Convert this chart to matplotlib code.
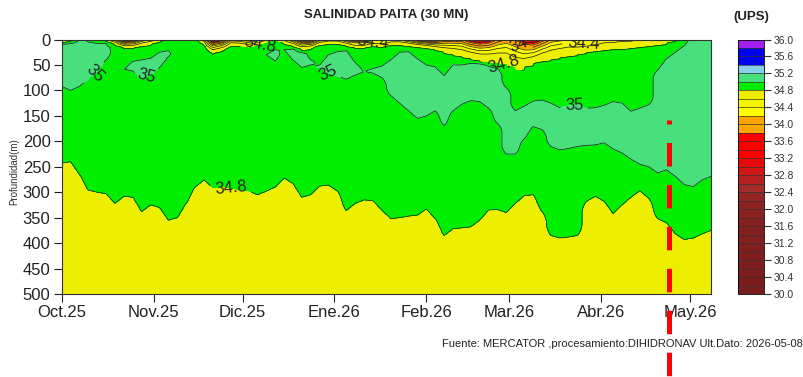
import numpy as np
import matplotlib
matplotlib.use("Agg")
import matplotlib.pyplot as plt
import matplotlib.dates as mdates

plt.rcParams['font.family'] = ['Liberation Sans', 'DejaVu Sans']
plt.rcParams['lines.scale_dashes'] = False

# --- Datos (salinidad, UPS) ---
inicio = np.datetime64('2025-10-01')
ult_dato = '2026-05-08'
fecha_corte = np.datetime64('2026-04-24')
dias = np.arange(0, 220, 3)   # dias desde el 1 de octubre

# profundidad de la isohalina 34.8 (limite con el agua de 34.6-34.8)
prof_348 = np.array([
    243, 240, 265, 296, 300, 303, 322, 308, 310, 338, 325, 330, 355, 350, 322,
    290, 276, 291, 289, 291, 295, 297, 305, 298, 290, 272, 283, 310, 305, 288,
    286, 298, 336, 322, 315, 317, 335, 352, 350, 347, 345, 333, 352, 385, 372,
    370, 368, 355, 335, 334, 340, 322, 307, 305, 338, 385, 390, 388, 385, 318,
    308, 318, 342, 325, 310, 297, 312, 352, 360, 382, 393, 390, 382, 375])

# capa superficial menos salina: espesor hasta 34.8 y salinidad en superficie
capa_sup = np.array([
    6, 4, 0, 0, 0, 4, 12, 18, 18, 15, 12, 6, 0, 0, 0,
    0, 12, 30, 25, 15, 15, 18, 15, 8, 4, 10, 15, 22, 20, 12,
    10, 10, 14, 18, 18, 15, 17, 13, 12, 14, 16, 18, 22, 28, 32,
    36, 40, 44, 46, 48, 53, 63, 60, 52, 45, 42, 38, 35, 32, 28,
    24, 22, 20, 20, 18, 16, 15, 12, 10, 5, 0, 0, 0, 0])
sal_sup = np.array([
    34.6, 34.7, 34.9, 34.9, 34.9, 34.7, 34.2, 33.1, 33.3, 34.1, 34.4, 34.6, 34.9, 34.9, 34.9,
    34.9, 34.4, 33.0, 33.3, 34.2, 34.1, 33.9, 34.2, 34.5, 34.7, 34.5, 34.0, 33.2, 33.3, 34.1,
    34.4, 34.4, 34.0, 33.3, 33.4, 34.0, 34.0, 34.3, 34.3, 34.0, 33.5, 33.2, 33.3, 33.7, 33.8,
    33.8, 33.4, 33.2, 33.4, 33.8, 34.0, 33.8, 33.4, 33.2, 33.6, 34.0, 34.1, 34.2, 34.1, 34.1,
    34.2, 34.4, 34.4, 34.5, 34.5, 34.6, 34.6, 34.6, 34.7, 34.75, 34.9, 34.9, 34.9, 34.9])

# nucleos de agua > 35 UPS (dia, techo, fondo)
oct_dias = [0, 3, 6, 9, 12, 15, 18]
oct_techo = [-10, -10, -5, 5, 8, 8, 5]
oct_fondo = [92, 100, 92, 78, 62, 40, 5]

nov_dias = [21, 24, 27, 30, 33, 36]
nov_techo = [58, 43, 40, 37, 25, 22]
nov_fondo = [58, 62, 76, 70, 55, 34]

dic_dias = [69, 72]
dic_techo = [30, 20]
dic_fondo = [30, 42]

ene_dias = [75, 78, 81, 84]
ene_techo = [20, -5, -5, 40]
ene_fondo = [20, 40, 55, 50]

ene2_dias = [87, 90, 93, 96, 99]
ene2_techo = [50, 30, 24, 22, 45]
ene2_fondo = [56, 66, 72, 78, 70]

feb_dias = list(range(102, 220, 3))
feb_techo = [63, 57, 52, 40, 25, 24, 38, 50, 54, 71, 50, 50, 47, 46, 53, 57,
             95, 140, 131, 121, 119, 125, 134, 130, 128, 135, 134, 129, 122,
             125, 141, 135, 128, 60, 38, 25, 12, -10, -10, -10]
feb_fondo = [63, 66, 75, 110, 125, 140, 155, 150, 140, 169, 140, 127, 120, 122,
             135, 165, 225, 225, 195, 171, 177, 210, 217, 214, 210, 208, 207,
             203, 215, 223, 235, 245, 250, 262, 256, 269, 285, 289, 276, 269]

nucleos = [(oct_dias, oct_techo, oct_fondo), (nov_dias, nov_techo, nov_fondo),
           (dic_dias, dic_techo, dic_fondo), (ene_dias, ene_techo, ene_fondo),
           (ene2_dias, ene2_techo, ene2_fondo), (feb_dias, feb_techo, feb_fondo)]

meses = ['Oct.25', 'Nov.25', 'Dic.25', 'Ene.26', 'Feb.26', 'Mar.26', 'Abr.26', 'May.26']
fechas_meses = np.arange('2025-10', '2026-06', dtype='datetime64[M]').astype('datetime64[D]')

niveles = np.round(np.arange(30.0, 36.01, 0.2), 1)
colores = ['#7a1c1c', '#7a1c1c', '#7d1d1d', '#7d1d1d', '#801e1e', '#801e1e',
           '#831f1f', '#831f1f', '#862020', '#892121', '#8c2222', '#952525',
           '#a52a2a', '#b82020', '#d01515', '#e60a0a', '#ff0000', '#ff0000',
           '#ff0000', '#ffa500', '#ffa500', '#ffff00', '#f5f500', '#eeee00',
           '#00ee00', '#48e07c', '#87ceeb', '#0000ee', '#0000ee', '#a020f0']

# etiquetas de isohalinas: nivel, dia, profundidad
etiquetas = [(35.0, 11, 66), (35.0, 28, 60), (35.0, 90, 62), (35.0, 173, 132),
             (34.8, 57, 291), (34.8, 67, 12), (34.8, 149, 53),
             (34.4, 105, 8), (34.4, 176, 12), (34.0, 154, 14)]

# --- Campo de salinidad ---
z = np.arange(0, 501, 2.0)
Z = z[:, None]
sal = 34.8 + 0.1 * np.clip((prof_348[None, :] - Z) / 20.0, -1, 1)

# nucleos salinos: 35.0 en el borde, 35.1 en el interior
for d, t, f in nucleos:
    idx = np.array(d) // 3
    t = np.array(t, float)
    f = np.array(f, float)
    centro = (t + f) / 2
    medio = (f - t) / 2
    s_n = 35.0 + 0.1 * np.clip((medio[None, :] - np.abs(Z - centro[None, :])) / 15.0, -100, 1)
    sal[:, idx] = np.maximum(sal[:, idx], s_n)

# capa superficial: perfil cuadratico desde sal_sup hasta 34.8
hf = capa_sup[None, :].astype(float)
u = np.clip(1 - Z / np.maximum(hf, 1), 0, None)
s_f = np.where(Z < hf, 34.8 - (34.8 - sal_sup[None, :]) * u ** 2, 34.8 + (Z - hf) * 0.05)
sal = np.where(hf > 0, np.minimum(sal, s_f), sal)

x = mdates.date2num(inicio) + dias
d0 = mdates.date2num(inicio)

# --- Figura ---
fig = plt.figure(figsize=(8.04, 3.77), dpi=100)
ax = fig.add_axes([0.0767, 0.2202, 0.8076, 0.675])
cax = fig.add_axes([0.918, 0.2202, 0.0323, 0.675])

cf = ax.contourf(x, z, sal, levels=niveles, colors=colores)

con_etiqueta = sorted({e[0] for e in etiquetas})
resto = [v for v in niveles if v not in con_etiqueta]
ax.contour(x, z, sal, levels=resto, colors='#1a1a1a', linewidths=0.5)
for nivel in con_etiqueta:
    cs = ax.contour(x, z, sal, levels=[nivel], colors='#1a1a1a', linewidths=0.5)
    pos = [(d0 + dia, prof) for n, dia, prof in etiquetas if n == nivel]
    ax.clabel(cs, manual=pos, inline=True, fmt='%g', fontsize=12,
              colors='#222222')

ax.plot([mdates.date2num(fecha_corte)] * 2, [159, 665], color='red', lw=3.6,
        linestyle=(14, (16.9, 13.3)), dash_capstyle='butt',
        clip_on=False, zorder=5)

ax.set_ylim(500, 0)
ax.set_xlim(mdates.date2num(inicio), mdates.date2num(np.datetime64(ult_dato)))
ax.set_yticks(np.arange(0, 501, 50))
ax.set_xticks(mdates.date2num(fechas_meses))
ax.set_xticklabels(meses)
ax.tick_params(labelsize=12, length=6, width=0.8, colors='#222222', pad=2)
for s in ax.spines.values():
    s.set_linewidth(0.8)
    s.set_color('#333333')

cb = fig.colorbar(cf, cax=cax, ticks=np.arange(30.0, 36.01, 0.4), drawedges=True)
cb.dividers.set_linewidth(0.5)
cb.dividers.set_color('#333333')
cb.outline.set_linewidth(0.6)
cb.ax.set_yticklabels(['%.1f' % v for v in np.arange(30.0, 36.01, 0.4)])
cb.ax.tick_params(labelsize=7.5, length=5, width=0.8, colors='#333333', pad=2)

fig.text(386 / 804, 1 - 15 / 377, 'SALINIDAD PAITA (30 MN)', fontsize=9.5,
         fontweight='bold', ha='center', va='center', color='#222222')
fig.text(751 / 804, 1 - 17 / 377, '(UPS)', fontsize=9.5, fontweight='bold',
         ha='center', va='center', color='#222222')
fig.text(14 / 804, 1 - 172 / 377, 'Profundidad(m)', fontsize=7, rotation=90,
         ha='center', va='center', color='#333333')
fig.text(0.998, 1 - 344 / 377,
         'Fuente: MERCATOR ,procesamiento:DIHIDRONAV Ult.Dato: ' + ult_dato,
         fontsize=8, ha='right', va='center', color='#222222')

fig.savefig('out.png', dpi=100)
